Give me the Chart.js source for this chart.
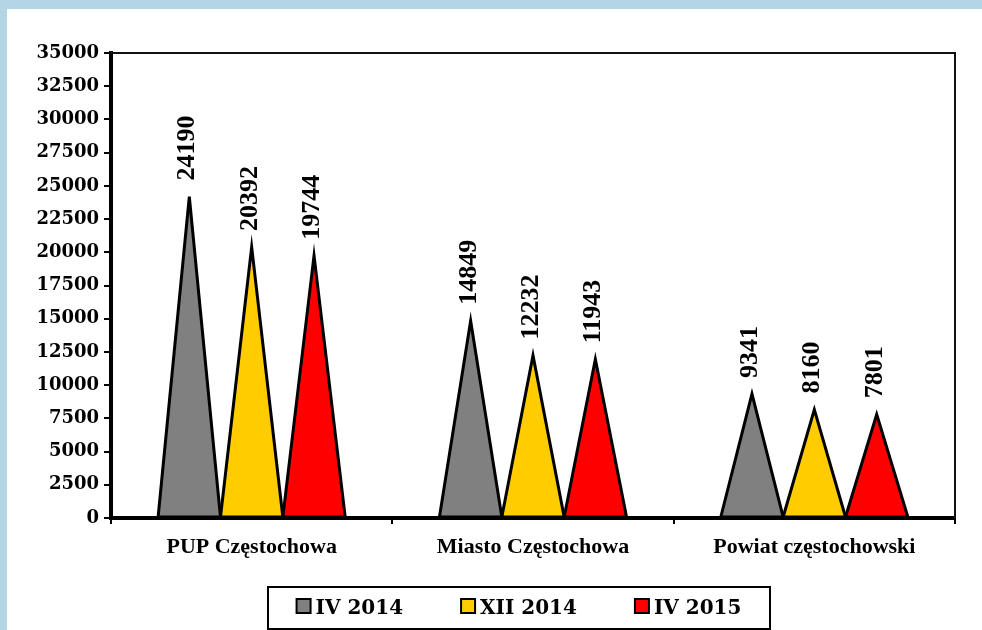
<!DOCTYPE html>
<html>
<head>
<meta charset="utf-8">
<script src="https://cdn.jsdelivr.net/npm/chart.js@4.4.1/dist/chart.umd.min.js"></script>
<style>
    html, body { margin: 0; padding: 0; }
    body { width: 982px; height: 630px; background: #b4d5e3; position: relative; overflow: hidden; }
    #panel { position: absolute; left: 7px; top: 9px; width: 975px; height: 621px; background: #fff; }
</style>
</head>
<body>
<div id="panel"><canvas id="grafico"></canvas></div>
<script>
// --- Dane ---
const kategorie = ['PUP Częstochowa', 'Miasto Częstochowa', 'Powiat częstochowski'];
const etykietySerii = ['IV 2014', 'XII 2014', 'IV 2015'];
const iv2014 = [24190, 14849, 9341];
const xii2014 = [20392, 12232, 8160];
const iv2015 = [19744, 11943, 7801];
const kolory = ['#808080', '#ffcc00', '#ff0000'];
const osYMax = 35000;
const osYKrok = 2500;

// --- Trójkąty zamiast słupków + etykiety wartości ---
const trojkaty = {
    id: 'trojkaty',
    beforeDatasetDraw(chart, args) {
        const ctx = chart.ctx;
        const meta = args.meta;
        const ds = chart.data.datasets[args.index];
        ctx.save();
        ctx.lineWidth = 3;
        ctx.lineJoin = 'miter';
        ctx.strokeStyle = '#000';
        ctx.fillStyle = ds.backgroundColor;
        meta.data.forEach(el => {
            const p = el.getProps(['x', 'y', 'base', 'width'], true);
            ctx.beginPath();
            ctx.moveTo(p.x - p.width / 2, p.base);
            ctx.lineTo(p.x, p.y);
            ctx.lineTo(p.x + p.width / 2, p.base);
            ctx.closePath();
            ctx.fill();
            ctx.stroke();
        });
        // etykiety obrócone o 90 stopni
        ctx.fillStyle = '#000';
        ctx.font = 'bold 26px "Liberation Serif"';
        ctx.textAlign = 'left';
        ctx.textBaseline = 'alphabetic';
        meta.data.forEach((el, i) => {
            const p = el.getProps(['x', 'y'], true);
            ctx.save();
            ctx.translate(p.x, p.y - 16);
            ctx.rotate(-Math.PI / 2);
            ctx.fillText(String(ds.data[i]), 0, 5);
            ctx.restore();
        });
        ctx.restore();
        return false;
    }
};

// --- Ramka obszaru wykresu i legenda ---
const ramka = {
    id: 'ramka',
    afterDraw(chart) {
        const ctx = chart.ctx;
        const a = chart.chartArea;
        ctx.save();
        ctx.strokeStyle = '#111';
        ctx.lineWidth = 2;
        ctx.beginPath();
        ctx.moveTo(a.left, a.top);
        ctx.lineTo(a.right, a.top);
        ctx.lineTo(a.right, a.bottom);
        ctx.stroke();

        // legenda
        const boxL = 261, boxT = 578, boxW = 502, boxH = 42;
        const kw = 14, odstepTekst = 5, odstepEl = 58;
        ctx.font = 'bold 20px "DejaVu Serif"';
        const elementy = chart.data.datasets.map(ds => ({
            label: ds.label,
            kolor: ds.backgroundColor,
            w: kw + odstepTekst + ctx.measureText(ds.label).width
        }));
        const suma = elementy.reduce((s, e) => s + e.w, 0) + odstepEl * (elementy.length - 1);
        let x = boxL + (boxW - suma) / 2;
        ctx.lineWidth = 2;
        ctx.strokeStyle = '#000';
        ctx.strokeRect(boxL, boxT, boxW, boxH);
        ctx.textBaseline = 'alphabetic';
        ctx.textAlign = 'left';
        elementy.forEach(e => {
            ctx.fillStyle = e.kolor;
            ctx.fillRect(x, 590, kw, kw);
            ctx.strokeRect(x, 590, kw, kw);
            ctx.fillStyle = '#000';
            ctx.fillText(e.label, x + kw + odstepTekst, 605);
            x += e.w + odstepEl;
        });
        ctx.restore();
    }
};

const ctx = document.getElementById('grafico').getContext('2d');
new Chart(ctx, {
    type: 'bar',
    data: {
        labels: kategorie,
        datasets: [
            { label: etykietySerii[0], data: iv2014, backgroundColor: kolory[0] },
            { label: etykietySerii[1], data: xii2014, backgroundColor: kolory[1] },
            { label: etykietySerii[2], data: iv2015, backgroundColor: kolory[2] }
        ]
    },
    options: {
        responsive: true,
        maintainAspectRatio: false,
        animation: false,
        layout: { padding: { left: 0, right: 27, top: 44, bottom: 62 } },
        datasets: { bar: { barPercentage: 1, categoryPercentage: 0.665 } },
        plugins: {
            legend: { display: false },
            tooltip: { enabled: false }
        },
        scales: {
            x: {
                grid: { display: true, drawOnChartArea: false, drawTicks: true, tickLength: 6, color: '#000', lineWidth: 2, offset: true },
                border: { display: true, color: '#000', width: 4 },
                ticks: { color: '#000', padding: 10, font: { family: 'Liberation Serif', size: 22, weight: 'bold' } },
                afterFit: s => { s.height = 50; }
            },
            y: {
                min: 0,
                max: osYMax,
                grid: { display: true, drawOnChartArea: false, drawTicks: true, tickLength: 7, color: '#000', lineWidth: 2 },
                border: { display: true, color: '#000', width: 4 },
                ticks: {
                    stepSize: osYKrok,
                    color: '#000',
                    padding: 5,
                    font: { family: 'DejaVu Serif', size: 18, weight: 'bold' },
                    callback: v => String(v)
                },
                afterFit: s => { s.width = 104; }
            }
        }
    },
    plugins: [trojkaty, ramka]
});
</script>
</body>
</html>
